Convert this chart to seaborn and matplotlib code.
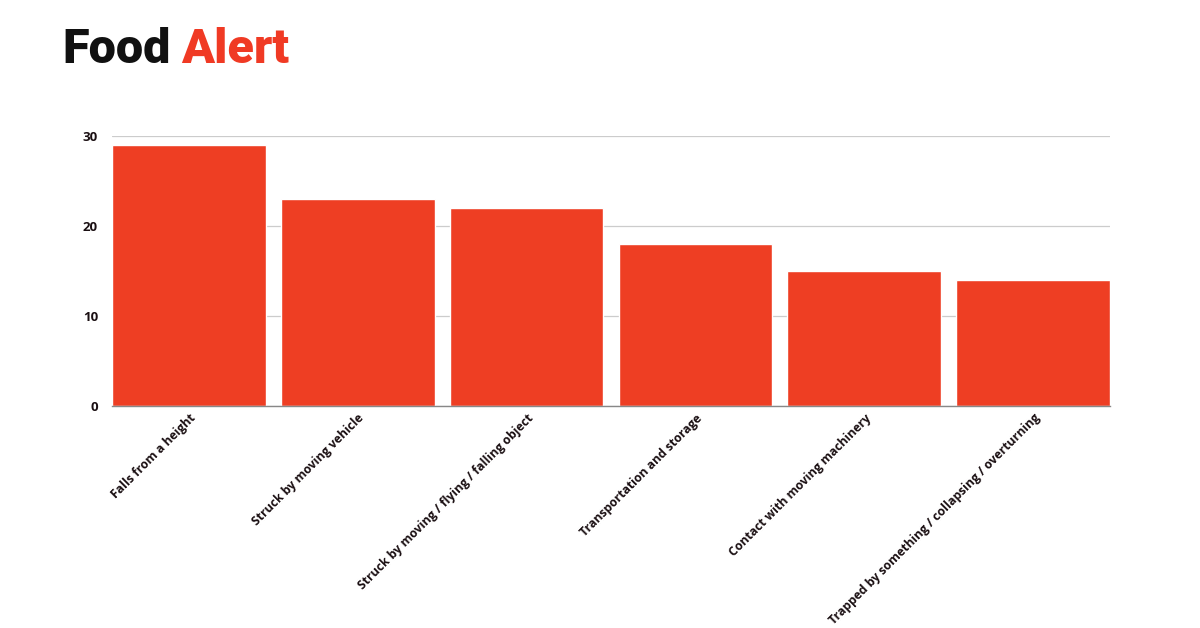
import matplotlib
matplotlib.use("Agg")
import matplotlib.pyplot as plt
import seaborn as sns
import pandas as pd

categories = [
    "Falls from a height",
    "Struck by moving vehicle",
    "Struck by moving / flying / falling object",
    "Transportation and storage",
    "Contact with moving machinery",
    "Trapped by something / collapsing / overturning",
]
values = [29, 23, 22, 18, 15, 14]
y_ticks = [0, 10, 20, 30]

df = pd.DataFrame({"category": categories, "value": values})

sns.set_theme(style="white")
plt.rcParams["font.family"] = ["Open Sans", "DejaVu Sans"]

fig = plt.figure(figsize=(12, 6.28), dpi=100)
ax = fig.add_axes([0.0933, 0.3535, 0.8317, 0.4299])

bar_color = "#EE3E23"
bar_width = 0.91
sns.barplot(data=df, x="category", y="value", color=bar_color, width=bar_width,
            saturation=1, ax=ax, zorder=3)

ax.set_ylim(0, 30)
ax.set_xlim(-bar_width / 2, len(categories) - 1 + bar_width / 2)
ax.set_yticks(y_ticks)
ax.set_yticklabels([str(t) for t in y_ticks], fontsize=9.5, fontweight="bold",
                   color="#1a0f12")
ax.grid(axis="y", color="#cccccc", linewidth=0.9, zorder=0)
ax.set_axisbelow(True)
for s in ["top", "right", "left"]:
    ax.spines[s].set_visible(False)
ax.spines["bottom"].set_color("#888888")
ax.spines["bottom"].set_linewidth(1.0)
ax.spines["bottom"].set_zorder(4)
ax.tick_params(axis="y", length=0, pad=10)
ax.tick_params(axis="x", length=0, pad=4)
ax.set_xlabel("")
ax.set_ylabel("")
ax.set_xticks(range(len(categories)))
ax.set_xticklabels(categories, rotation=45, ha="right", rotation_mode="anchor",
                   fontsize=8.8, fontweight="bold", color="#1a0f12")

# Brand wordmark
fig.text(0.052, 0.8997, "Food", fontsize=35, fontweight="black",
         family=["Roboto", "DejaVu Sans"], color="#111111", va="baseline", ha="left")
fig.text(0.151, 0.8997, "Alert", fontsize=35, fontweight="black",
         family=["Roboto", "DejaVu Sans"], color="#F03A24", va="baseline", ha="left")

fig.savefig("out.png", dpi=100, facecolor="white")
